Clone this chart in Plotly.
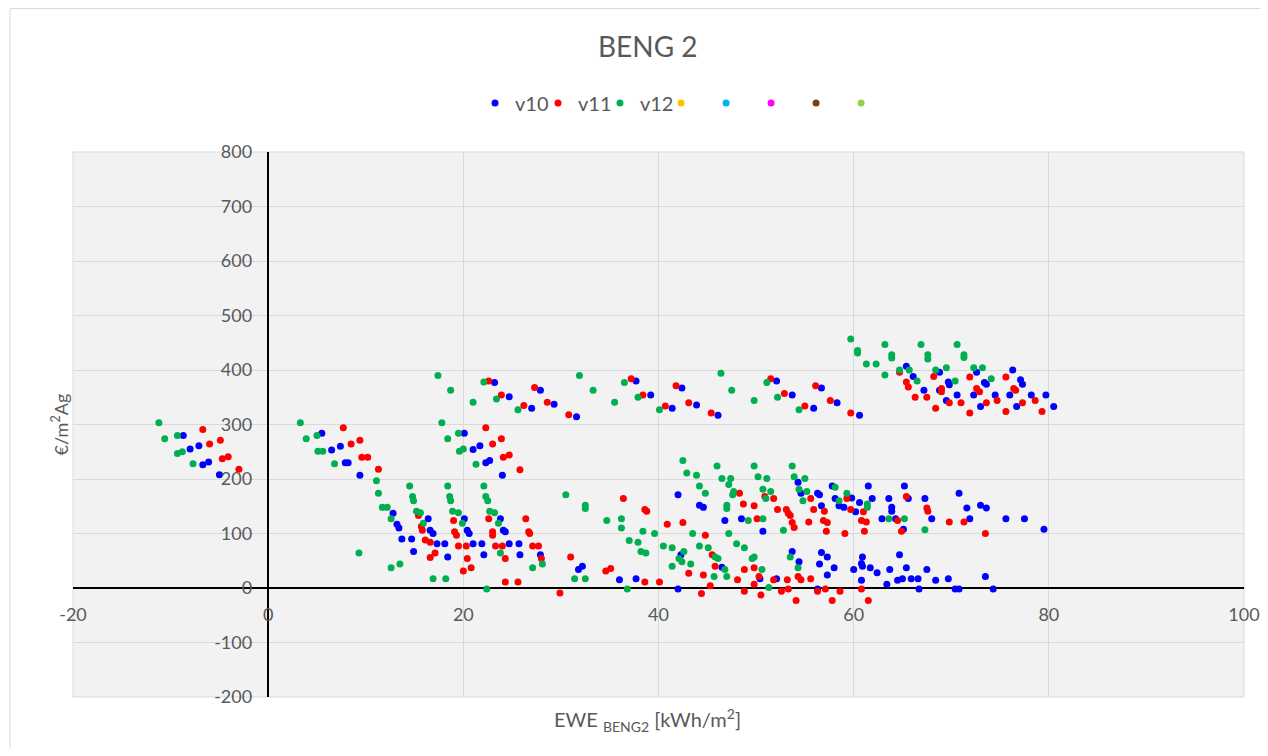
import plotly.graph_objects as go

# ---------------- data ----------------
v10_x = [-8.7, -8.0, -7.1, -6.7, -6.1, -5.0,
         5.5, 6.5, 7.4, 7.9, 8.2, 9.4,
         20.1, 21.0, 21.7, 22.3, 22.7, 24.0,
         23.2, 24.7, 27.0, 27.9, 29.3, 31.6,
         12.8, 13.2, 13.4, 13.7, 14.7, 14.9,
         16.4, 16.6, 16.9, 17.3, 18.1, 18.4,
         20.1, 20.4, 20.6, 21.0, 21.9, 22.1,
         23.8, 24.1, 24.3, 24.7, 25.7, 25.8,
         27.9, 31.8, 32.2,
         37.7, 39.2, 41.4, 42.4, 43.9, 46.1,
         52.1, 53.7, 55.9, 56.7, 58.3,
         42.0, 44.2, 44.6, 46.8, 48.5, 50.7,
         54.3, 54.6, 56.3, 56.5, 56.7, 57.8, 58.1,
         42.3, 46.5, 53.7, 54.4, 56.7, 57.3, 56.5, 57.3,
         36.0, 37.7, 42.0, 50.4, 52.1, 56.3, 58.0,
         65.4, 66.1, 67.2, 68.8, 68.8, 69.7, 69.8, 69.5, 70.6,
         72.6, 73.4, 73.6, 72.3, 73.0, 74.5,
         76.3, 77.1, 77.3, 76.0, 76.7, 78.2, 79.7, 80.5,
         60.6,
         58.5, 59.0, 59.8, 60.6, 60.2, 61.5, 61.9, 63.6, 63.9, 63.9, 62.9, 64.3, 65.1, 65.2, 65.6, 67.3, 68.0,
         70.8, 71.6, 73.0, 73.6, 71.9, 75.6, 77.5, 79.5,
         60.9, 60.8, 60.9, 60.0, 61.7, 62.4, 63.7, 64.7, 65.4, 64.5, 65.0, 65.9, 66.6, 67.5, 68.4, 69.7,
         63.4, 60.8, 66.7, 70.4, 70.8, 73.5, 74.3]
v10_y = [280, 255, 261, 226, 231, 208,
         284, 253, 260, 230, 230, 207,
         284, 254, 261, 230, 234, 207,
         377, 351, 330, 363, 337, 314,
         137, 117, 110, 90, 90, 67,
         127, 106, 100, 81, 81, 57,
         127, 106, 100, 81, 81, 61,
         127, 106, 103, 81, 81, 61,
         61, 34, 40,
         380, 354, 330, 367, 336, 317,
         380, 354, 330, 367, 340,
         171, 152, 148, 124, 127, 104,
         194, 174, 174, 171, 151, 187, 164,
         61, 38, 67, 48, 65, 57, 44, 24,
         15, 17, -2, 17, 17, -2, 37,
         407, 388, 363, 396, 363, 378, 373, 344, 354,
         396, 377, 374, 354, 333, 354,
         400, 382, 374, 354, 333, 354, 354, 333,
         317,
         151, 148, 165, 157, 140, 187, 164, 164, 148, 141, 127, 127, 108, 187, 164, 164, 127,
         174, 147, 152, 147, 127, 127, 127, 108,
         57, 45, 40, 34, 37, 28, 34, 61, 37, 14, 17, 17, 17, 34, 14, 17,
         7, 14, -2, -2, -2, 21, -2]

v11_x = [-6.7, -6.0, -4.9, -4.7, -4.1, -3.0,
         7.7, 8.5, 9.4, 9.6, 10.2, 11.3,
         22.6, 23.9, 26.2, 27.3, 28.6, 30.8,
         22.3, 23.9, 23.0, 24.1, 24.7, 25.8,
         15.4, 15.7, 15.8, 16.1, 16.6, 16.6, 17.1,
         19.0, 19.1, 19.3, 19.5, 20.3, 20.4, 20.8, 20.0,
         22.6, 23.0, 23.0, 23.3, 24.0, 24.3,
         26.4, 26.7, 26.8, 27.1, 27.7, 28.0,
         24.3, 25.6, 31.0, 29.9, 34.6, 35.1,
         37.2, 38.4, 40.7, 41.8, 43.1, 45.4,
         51.5, 52.9, 55.0, 56.1, 57.6,
         36.4, 38.6, 38.8, 40.9, 42.5,
         48.3, 48.7, 49.8, 50.1, 50.9, 51.8, 52.2, 53.1, 53.3, 53.5, 53.7, 53.9, 55.4, 55.6, 55.9, 56.9, 57.3, 57.2, 57.0,
         44.8, 45.5, 45.8, 43.1, 44.6, 45.3, 44.4,
         48.8, 49.8, 48.1, 49.8, 50.3, 48.8, 50.5, 51.8, 53.2, 54.3, 54.6, 55.6, 52.6, 53.3, 54.1, 56.3, 57.1, 57.8,
         38.6, 40.1, 58.6,
         64.7, 65.4, 65.6, 66.3, 67.5, 68.2, 69.0, 69.0, 68.4, 69.8, 71.0, 71.9, 72.6, 72.9, 71.9, 73.6, 74.7,
         75.6, 76.4, 76.6, 75.6, 77.3, 78.6, 79.3, 59.7,
         59.3, 59.7, 61.0, 60.8, 61.3, 61.1, 59.1, 65.4, 64.5, 64.9, 67.5, 67.6, 69.8, 71.3, 73.5,
         60.8, 61.5]
v11_y = [291, 264, 271, 237, 241, 218,
         294, 264, 271, 240, 240, 218,
         380, 354, 335, 368, 341, 318,
         294, 274, 264, 240, 244, 217,
         133, 113, 106, 88, 84, 56, 64,
         124, 103, 97, 77, 77, 54, 37, 31,
         127, 103, 97, 77, 77, 54,
         127, 103, 100, 77, 77, 54,
         11, 11, 57, -9, 31, 36,
         384, 354, 334, 371, 340, 321,
         384, 357, 334, 371, 344,
         164, 144, 141, 117, 120,
         174, 154, 151, 127, 168, 164, 144, 144, 137, 133, 120, 111, 121, 164, 144, 124, 120, 104, 141,
         97, 61, 40, 27, 24, 4, -10,
         34, 37, 15, 7, 21, -6, -13, 15, 15, 21, 15, 17, -6, -2, -23, -6, -2, -23,
         11, 11, -6,
         396, 378, 369, 350, 350, 388, 366, 360, 330, 340, 340, 387, 366, 360, 321, 340, 344,
         387, 366, 363, 324, 340, 344, 324, 321,
         164, 144, 140, 124, 121, 104, 100, 168, 124, 104, 147, 141, 121, 121, 100,
         -2, -23]

v12_x = [-11.2, -10.6, -9.3, -9.3, -8.8, -7.7,
         3.3, 3.9, 5.0, 5.1, 5.6, 6.8, 9.3,
         17.4, 18.7, 21.0, 17.8, 18.4, 19.5, 19.6, 20.0, 21.3,
         22.1, 23.4, 25.6, 31.9, 33.3,
         11.1, 11.3, 11.7, 12.2, 12.6,
         14.5, 14.8, 14.9, 15.2, 15.6, 15.9,
         18.4, 18.6, 18.7, 18.9, 19.5, 19.9,
         22.1, 22.3, 22.5, 22.7, 23.2, 23.6, 23.8,
         12.6, 13.5, 16.9, 18.2, 22.4, 27.1, 28.1,
         30.5, 32.5, 32.5, 34.7, 31.4, 32.5,
         35.5, 36.5, 37.9, 40.1, 46.4, 47.5, 49.8, 51.1, 52.2, 54.4,
         42.5, 46.0, 49.8, 53.7,
         42.9, 43.9, 44.2, 44.8, 46.5, 47.4, 47.2, 47.7, 47.6, 47.0, 47.0,
         50.2, 51.1, 50.7, 51.5, 51.0, 53.9, 55.0, 54.4, 55.2, 54.8,
         36.2, 36.2, 38.4, 39.6, 37.0, 37.9, 38.2, 38.7, 40.5, 41.4, 42.6, 42.1, 42.4, 43.3, 41.4,
         43.5, 44.2, 45.1, 45.8, 46.1, 46.8, 47.0, 45.7,
         47.2, 48.0, 48.8, 49.8, 49.6, 50.6, 49.2, 50.7, 52.8, 53.5, 54.3, 51.3, 36.8,
         59.7, 60.4, 60.4, 61.3, 62.3, 63.2, 63.9, 63.9, 64.7, 63.2, 65.7, 66.5,
         66.9, 67.6, 67.6, 68.4, 69.5, 70.4, 70.6, 71.3, 71.3, 72.3, 73.2, 74.1,
         58.1, 59.3, 58.5, 61.4, 61.4, 63.6, 65.2, 67.3]
v12_y = [303, 274, 280, 247, 250, 228,
         303, 274, 280, 251, 251, 228, 64,
         390, 363, 341, 303, 274, 284, 251, 255, 227,
         378, 347, 327, 390, 363,
         197, 174, 148, 148, 127,
         187, 168, 160, 141, 138, 119,
         187, 168, 160, 141, 138, 119,
         187, 168, 160, 141, 138, 119, 64,
         37, 44, 17, 17, -2, 37, 44,
         171, 152, 146, 124, 17, 17,
         341, 377, 350, 327, 394, 363, 344, 377, 350, 327,
         234, 224, 224, 224,
         211, 207, 187, 174, 201, 201, 190, 177, 171, 152, 146,
         204, 201, 181, 177, 164, 204, 201, 181, 177, 160,
         127, 110, 104, 100, 87, 84, 67, 64, 77, 74, 67, 54, 48, 44, 40,
         100, 77, 74, 57, 54, 34, 21, 21,
         100, 81, 74, 57, 54, 34, 124, 127, 106, 57, 37, 1, -2,
         457, 436, 431, 411, 411, 447, 428, 422, 400, 391, 400, 380,
         447, 428, 420, 400, 404, 380, 447, 428, 423, 404, 404, 384,
         185, 174, 160, 154, 148, 127, 127, 107]

# five further (empty) series that only appear in the legend
series_names = ["v10", "v11", "v12", "\u200b", "\u200b\u200b", "\u200b\u200b\u200b",
                "\u200b\u200b\u200b\u200b", "\u200b\u200b\u200b\u200b\u200b"]
series_colors = ["#0000FF", "#FF0000", "#00B050", "#FFC000", "#00B0F0",
                 "#FF00FF", "#843C0C", "#92D050"]
series_x = [v10_x, v11_x, v12_x, [None], [None], [None], [None], [None]]
series_y = [v10_y, v11_y, v12_y, [None], [None], [None], [None], [None]]
series_legend = ["legend", "legend3", "legend4", "legend2", "legend2", "legend2", "legend2", "legend2"]

x_ticks = [-20, 0, 20, 40, 60, 80, 100]
y_ticks = [-200, -100, 0, 100, 200, 300, 400, 500, 600, 700, 800]

# ---------------- figure ----------------
FONT = "Lato"
GREY = "#595959"

fig = go.Figure()
for name, col, xs, ys, lg in zip(series_names, series_colors, series_x, series_y, series_legend):
    fig.add_trace(go.Scatter(
        x=xs, y=ys, mode="markers", name=name, legend=lg,
        marker=dict(color=col, size=7, line=dict(width=0)),
    ))

legend_common = dict(orientation="h", y=1.09, yanchor="middle", xanchor="left",
                     font=dict(family=FONT, size=20, color=GREY),
                     bgcolor="rgba(0,0,0,0)", itemwidth=30)

fig.update_layout(
    width=1252, height=740,
    margin=dict(l=65, r=16, t=144, b=51, autoexpand=False),
    paper_bgcolor="white",
    plot_bgcolor="#F2F2F2",
    font=dict(family=FONT, color=GREY, size=18),
    title=dict(text="BENG 2", x=0.511, xref="container", xanchor="center",
               y=0.947, yanchor="middle",
               font=dict(family=FONT, size=28, color=GREY)),
    legend=dict(x=0.3433, **legend_common),
    legend3=dict(x=0.3971, **legend_common),
    legend4=dict(x=0.4500, **legend_common),
    legend2=dict(x=0.5022, **legend_common),
    showlegend=True,
)

fig.update_xaxes(
    range=[-20, 100], tickvals=x_ticks, ticktext=[str(v) for v in x_ticks],
    showgrid=True, gridcolor="#D9D9D9", gridwidth=1,
    zeroline=True, zerolinecolor="black", zerolinewidth=1.5,
    showline=False, ticks="", anchor="free", position=0.2,
    ticklabelstandoff=14, automargin=False,
    tickfont=dict(family=FONT, size=18, color=GREY),
)
fig.update_yaxes(
    range=[-200, 800], tickvals=y_ticks, ticktext=[str(v) for v in y_ticks],
    showgrid=True, gridcolor="#D9D9D9", gridwidth=1,
    zeroline=True, zerolinecolor="black", zerolinewidth=1.5,
    showline=False, ticks="", anchor="free", position=1 / 6,
    ticklabelstandoff=16, automargin=False,
    tickfont=dict(family=FONT, size=18, color=GREY),
)

# plot-area border and chart frame
fig.add_shape(type="rect", xref="paper", yref="paper", x0=0, x1=1, y0=0, y1=1,
              line=dict(color="#D9D9D9", width=1), layer="below")
fig.add_shape(type="line", xref="paper", yref="paper", x0=-0.0538, x1=-0.0538,
              y0=-0.2, y1=1.2633, line=dict(color="#D9D9D9", width=1))
fig.add_shape(type="line", xref="paper", yref="paper", x0=-0.0538, x1=1.02,
              y0=1.2633, y1=1.2633, line=dict(color="#D9D9D9", width=1))

fig.add_annotation(text="EWE <sub>BENG2</sub> [kWh/m<sup>2</sup>]", xref="paper", yref="paper",
                   x=0.491, y=-0.042, xanchor="center", yanchor="middle", showarrow=False,
                   font=dict(family=FONT, size=20, color=GREY))
fig.add_annotation(text="€/m<sup>2</sup>Ag", xref="paper", yref="paper",
                   x=-0.0111, y=0.5, xanchor="center", yanchor="middle", showarrow=False,
                   textangle=-90, font=dict(family=FONT, size=18, color=GREY))

fig.write_html("out.html")
